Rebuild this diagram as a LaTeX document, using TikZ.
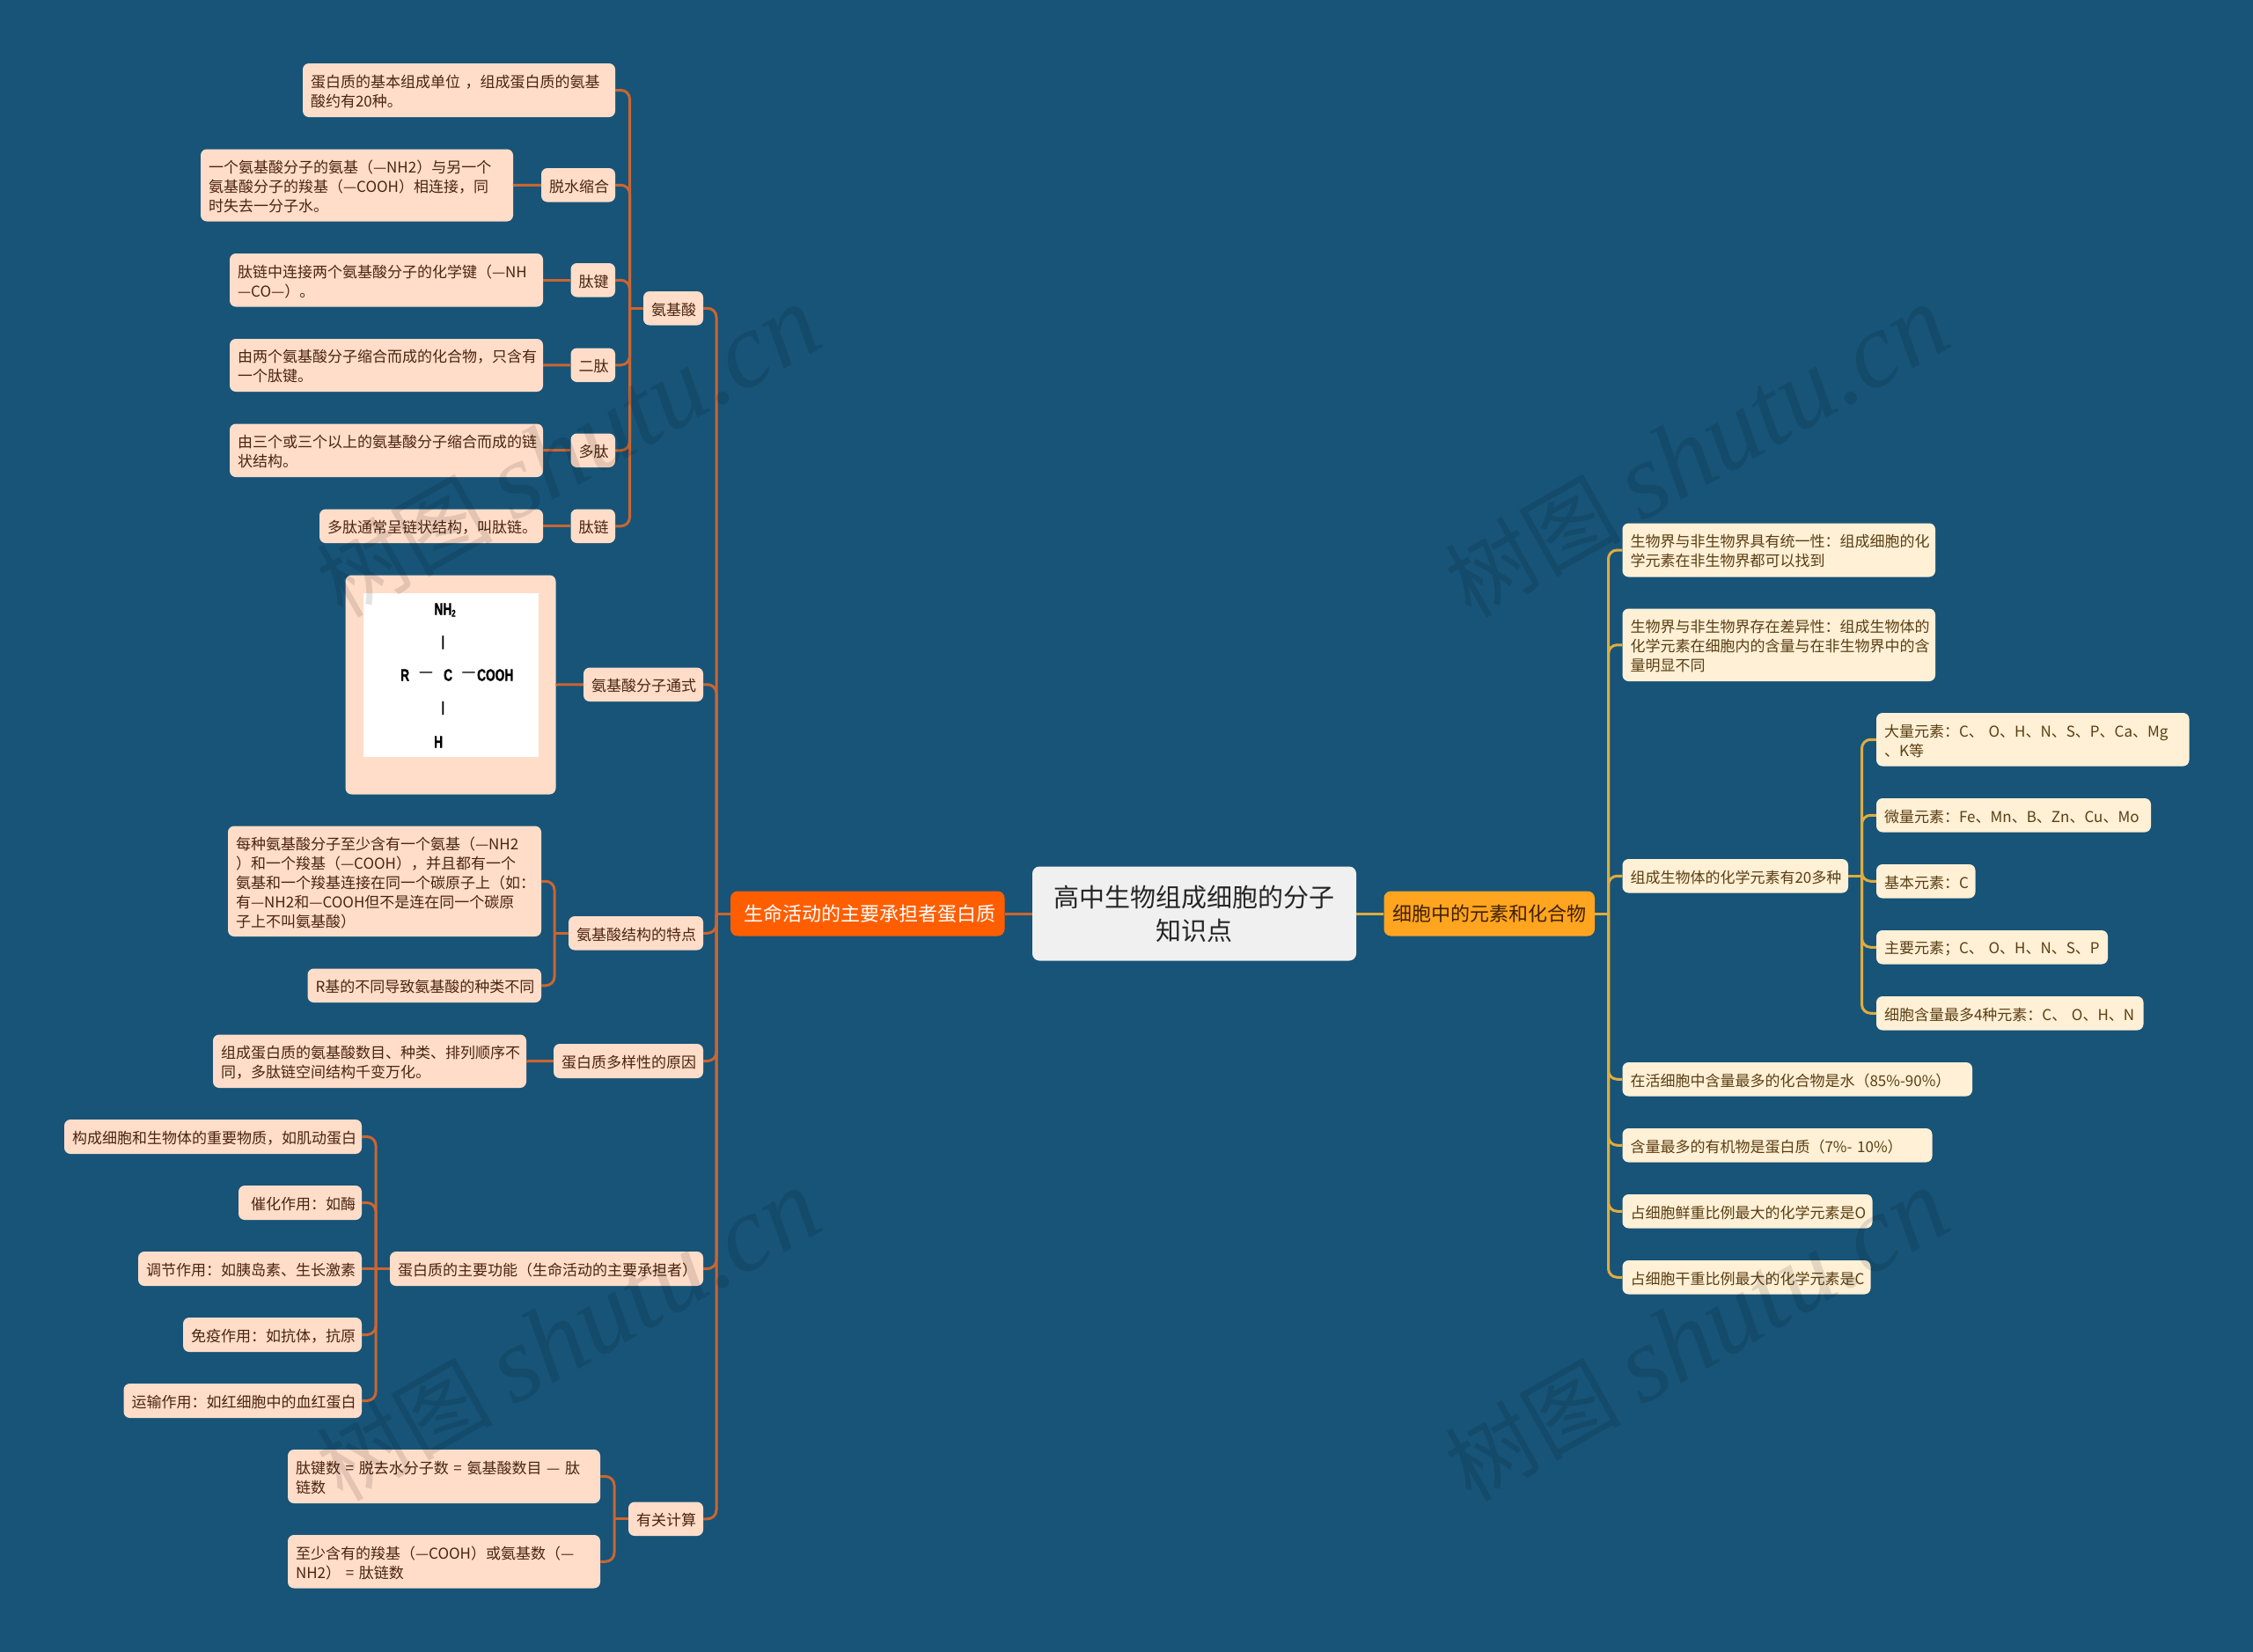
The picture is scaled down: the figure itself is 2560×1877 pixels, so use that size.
\documentclass[tikz,border=0pt]{standalone}
\usepackage{fontspec}
\setmainfont{Noto Sans CJK SC}
\newfontfamily\chemf[FakeStretch=0.72,BoldFeatures={FakeBold=1}]{Liberation Sans}
\newfontfamily\wmf{Liberation Serif}
\definecolor{bgc}{HTML}{175478}
\definecolor{peach}{HTML}{FFDDC9}
\definecolor{cream}{HTML}{FFF0D6}
\definecolor{inkL}{HTML}{4A2410}
\definecolor{inkR}{HTML}{5A3E12}
\definecolor{lineL}{HTML}{CC6530}
\definecolor{lineR}{HTML}{E0AC3E}
\definecolor{orangeA}{HTML}{FF5E00}
\definecolor{yellowA}{HTML}{FFA51F}
\tikzset{
  basebox/.style={rectangle,rounded corners=7pt,inner ysep=0pt,inner xsep=9pt,align=left,
    font=\fontsize{17}{22}\selectfont},
  lbox/.style={basebox,fill=peach,text=inkL},
  rbox/.style={basebox,fill=cream,text=inkR},
  rootbox/.style={basebox,rounded corners=8pt,fill=black!6,text=black!85,align=center,font=\fontsize{29}{38}\selectfont},
  obox/.style={basebox,rounded corners=8pt,fill=orangeA,text=white,align=center,font=\fontsize{22}{28}\selectfont},
  ybox/.style={basebox,rounded corners=8pt,fill=yellowA,text=black!75!orange,align=center,font=\fontsize{22}{28}\selectfont},
  connL/.style={draw=lineL,line width=3pt,rounded corners=10pt},
  connR/.style={draw=lineR,line width=3pt,rounded corners=10pt},
  chem/.style={text=black,inner sep=0pt,font=\fontsize{19}{19}\chemf\bfseries},
  wmark/.style={rotate=29.5,text=black,text opacity=.11,inner sep=0pt,font=\fontsize{100}{100}\selectfont},
}
\newcommand{\wmtext}{树图 {\fontsize{122}{122}\wmf\itshape shutu.cn}}
% box with its text in one node (centre boxes)
\newcommand{\mb}[7]{%
  \pgfmathsetmacro{\mbw}{#5-#3}\pgfmathsetmacro{\mbh}{#6-#4}%
  \pgfmathsetmacro{\mbt}{#5-#3-18}%
  \pgfmathsetmacro{\mbx}{(#3+#5)/2}\pgfmathsetmacro{\mby}{(#4+#6)/2}%
  \node[#1,minimum width=\mbw pt,minimum height=\mbh pt,text width=\mbt pt] (#2) at (\mbx,\mby) {#7};%
}
% box, with its text set slightly lower in a node of its own
\newcommand{\mc}[7]{%
  \pgfmathsetmacro{\mbw}{#5-#3}\pgfmathsetmacro{\mbh}{#6-#4}%
  \pgfmathsetmacro{\mbt}{#5-#3-18}%
  \pgfmathsetmacro{\mbx}{(#3+#5)/2}\pgfmathsetmacro{\mby}{(#4+#6)/2}%
  \node[#1,minimum width=\mbw pt,minimum height=\mbh pt] (#2) at (\mbx,\mby) {};%
  \node[#1,fill=none,text width=\mbt pt,yshift=-1.5pt] (#2t) at (\mbx,\mby) {#7};%
}
\begin{document}
\begin{tikzpicture}[x=1pt,y=-1pt]
\useasboundingbox (0,0) rectangle (2560,1877);
\fill[bgc] (0,0) rectangle (2560,1877);

% centre
\mb{rootbox}{root}{1173}{984.5}{1541}{1091.5}{高中生物组成细胞的分子\\知识点}
\mb{obox}{prot}{830}{1012.5}{1141.5}{1063.5}{\hspace*{6pt}生命活动的主要承担者蛋白质}
\mb{ybox}{elem}{1572.5}{1012.5}{1812}{1063.5}{细胞中的元素和化合物}

% left upper
\mc{lbox}{aa}{731}{331}{799}{369.5}{氨基酸}
\mc{lbox}{aaA}{344}{72}{699}{133}{蛋白质的基本组成单位 ，组成蛋白质的氨基\\酸约有20种。}
\mc{lbox}{tuo}{615}{191}{699}{229.5}{脱水缩合}
\mc{lbox}{tuoT}{228}{169.5}{583}{251.5}{一个氨基酸分子的氨基（—NH2）与另一个\\氨基酸分子的羧基（—COOH）相连接，同\\时失去一分子水。}
\mc{lbox}{tj}{648.5}{299}{699}{337.5}{肽键}
\mc{lbox}{tjT}{261}{288}{617}{348.5}{肽链中连接两个氨基酸分子的化学键（—NH\\—CO—）。}
\mc{lbox}{ert}{648.5}{395.5}{699}{434}{二肽}
\mc{lbox}{ertT}{261}{385}{617}{445}{由两个氨基酸分子缩合而成的化合物，只含有\\一个肽键。}
\mc{lbox}{duo}{648.5}{492.5}{699}{531}{多肽}
\mc{lbox}{duoT}{261}{481.5}{617}{542}{由三个或三个以上的氨基酸分子缩合而成的链\\状结构。}
\mc{lbox}{tl}{648.5}{578.5}{699}{617}{肽链}
\mc{lbox}{tlT}{363}{578.5}{617}{617}{多肽通常呈链状结构，叫肽链。}

% formula
\mc{lbox}{fm}{663}{758.5}{799}{797}{氨基酸分子通式}
\mb{lbox}{imgbox}{392.5}{653.5}{631.5}{902.5}{}
\node[fill=white,inner sep=0pt,minimum width=199pt,minimum height=186pt] (imgw) at (512,767) {};
\node[chem,anchor=west] (cNH) at (493.3,693) {NH\raisebox{-2pt}{\fontsize{11}{11}\selectfont 2}};
\node[chem,font=\fontsize{16}{16}\chemf\bfseries] (cB1) at (503.3,730) {|};
\node[chem,anchor=west] (cR) at (455,767) {R};
\node[chem,font=\fontsize{20}{20}\selectfont\chemf] (cD1) at (484,767) {—};
\node[chem,anchor=west] (cC) at (504,767) {C};
\node[chem,font=\fontsize{20}{20}\selectfont\chemf] (cD2) at (532.5,767) {—};
\node[chem,anchor=west] (cCOOH) at (542,767) {COOH};
\node[chem,font=\fontsize{16}{16}\chemf\bfseries] (cB2) at (503.3,804.5) {|};
\node[chem,anchor=west] (cH) at (493,843) {H};

% features
\mc{lbox}{te}{646}{1041}{799}{1079.5}{氨基酸结构的特点}
\mc{lbox}{teA}{259}{938.5}{615}{1064}{每种氨基酸分子至少含有一个氨基（—NH2\\）和一个羧基（—COOH），并且都有一个\\氨基和一个羧基连接在同一个碳原子上（如：\\有—NH2和—COOH但不是连在同一个碳原\\子上不叫氨基酸）}
\mc{lbox}{teB}{349.5}{1100.5}{615}{1139}{R基的不同导致氨基酸的种类不同}
\mc{lbox}{dy}{629}{1186}{799}{1225}{蛋白质多样性的原因}
\mc{lbox}{dyT}{242}{1175.5}{598}{1236}{组成蛋白质的氨基酸数目、种类、排列顺序不\\同，多肽链空间结构千变万化。}

% functions
\mc{lbox}{gn}{443}{1422}{799}{1461}{蛋白质的主要功能（生命活动的主要承担者）}
\mc{lbox}{gnA}{73}{1272}{411}{1311}{构成细胞和生物体的重要物质，如肌动蛋白}
\mc{lbox}{gnB}{271}{1347}{411}{1386}{\hspace*{5pt}催化作用：如酶}
\mc{lbox}{gnC}{157}{1422}{411}{1461}{调节作用：如胰岛素、生长激素}
\mc{lbox}{gnD}{208}{1497}{411}{1536}{免疫作用：如抗体，抗原}
\mc{lbox}{gnE}{140.5}{1572}{411}{1611}{运输作用：如红细胞中的血红蛋白}

% calculation
\mc{lbox}{js}{714}{1706.5}{799}{1745}{有关计算}
\mc{lbox}{jsA}{327}{1647}{682}{1708}{肽键数~=~脱去水分子数~=~氨基酸数目~—~肽\\链数}
\mc{lbox}{jsB}{327}{1744}{682}{1804.5}{至少含有的羧基（—COOH）或氨基数（—\\NH2）~=~肽链数}

% right
\mc{rbox}{r1}{1843.5}{594.5}{2199}{655.5}{生物界与非生物界具有统一性：组成细胞的化\\学元素在非生物界都可以找到}
\mc{rbox}{r2}{1843.5}{691.5}{2199}{774}{生物界与非生物界存在差异性：组成生物体的\\化学元素在细胞内的含量与在非生物界中的含\\量明显不同}
\mc{rbox}{r3}{1843.5}{976}{2100}{1014.5}{组成生物体的化学元素有20多种}
\mc{rbox}{s1}{2132}{810}{2487.5}{870.5}{大量元素：C、~O、H、N、S、P、Ca、Mg\\、K等}
\mc{rbox}{s2}{2132}{907}{2444}{945.5}{微量元素：Fe、Mn、B、Zn、Cu、Mo}
\mc{rbox}{s3}{2132}{982}{2244.5}{1020.5}{基本元素：C}
\mc{rbox}{s4}{2132}{1057}{2395}{1095.5}{主要元素；C、~O、H、N、S、P}
\mc{rbox}{s5}{2132}{1132}{2435.5}{1170.5}{细胞含量最多4种元素：C、~O、H、N}
\mc{rbox}{r4}{1843.5}{1207}{2241}{1245.5}{在活细胞中含量最多的化合物是水（85\%-90\%）}
\mc{rbox}{r5}{1843.5}{1282}{2195.5}{1320.5}{含量最多的有机物是蛋白质（7\%-~10\%）}
\mc{rbox}{r6}{1843.5}{1357}{2127.5}{1395.5}{占细胞鲜重比例最大的化学元素是O}
\mc{rbox}{r7}{1843.5}{1432}{2125.5}{1470.5}{占细胞干重比例最大的化学元素是C}

% junction coordinates
\coordinate (tm) at (814,1038);
\coordinate (ta) at (715.5,350.25);
\coordinate (tb) at (630,1060.25);
\coordinate (tc) at (427,1441.5);
\coordinate (td) at (698,1725.75);
\coordinate (tr) at (1827.5,1038);
\coordinate (ts) at (2115.5,995.25);

% centre links
\draw[connL] (root.west) -- (prot.east);
\draw[connR] (root.east) -- (elem.west);
\draw[connL] (prot.west) -- (tm);
\draw[connR] (elem.east) -- (tr);

% main left
\foreach \c in {aa,fm,te,dy,gn,js} \draw[connL] (tm) |- (\c.east);
% amino acid
\draw[connL] (aa.west) -- (ta);
\foreach \c in {aaA,tuo,tj,ert,duo,tl} \draw[connL] (ta) |- (\c.east);
\draw[connL] (tuo.west) -- (tuoT.east);
\draw[connL] (tj.west) -- (tjT.east);
\draw[connL] (ert.west) -- (ertT.east);
\draw[connL] (duo.west) -- (duoT.east);
\draw[connL] (tl.west) -- (tlT.east);
\draw[connL] (fm.west) -- (imgbox.east);
% features
\draw[connL] (te.west) -- (tb);
\foreach \c in {teA,teB} \draw[connL] (tb) |- (\c.east);
\draw[connL] (dy.west) -- (dyT.east);
% functions
\draw[connL] (gn.west) -- (gnC.east);
\foreach \c in {gnA,gnB,gnD,gnE} \draw[connL] (tc) |- (\c.east);
% calculation
\draw[connL] (js.west) -- (td);
\foreach \c in {jsA,jsB} \draw[connL] (td) |- (\c.east);
% right
\foreach \c in {r1,r2,r3,r4,r5,r6,r7} \draw[connR] (tr) |- (\c.west);
\draw[connR] (r3.east) -- (ts);
\foreach \c in {s1,s2,s3,s4,s5} \draw[connR] (ts) |- (\c.west);

% watermarks
\node[wmark] (wm1) at (646,514) {\wmtext};
\node[wmark] (wm2) at (1928,514) {\wmtext};
\node[wmark] (wm3) at (646,1518) {\wmtext};
\node[wmark] (wm4) at (1928,1518) {\wmtext};
\end{tikzpicture}
\end{document}
